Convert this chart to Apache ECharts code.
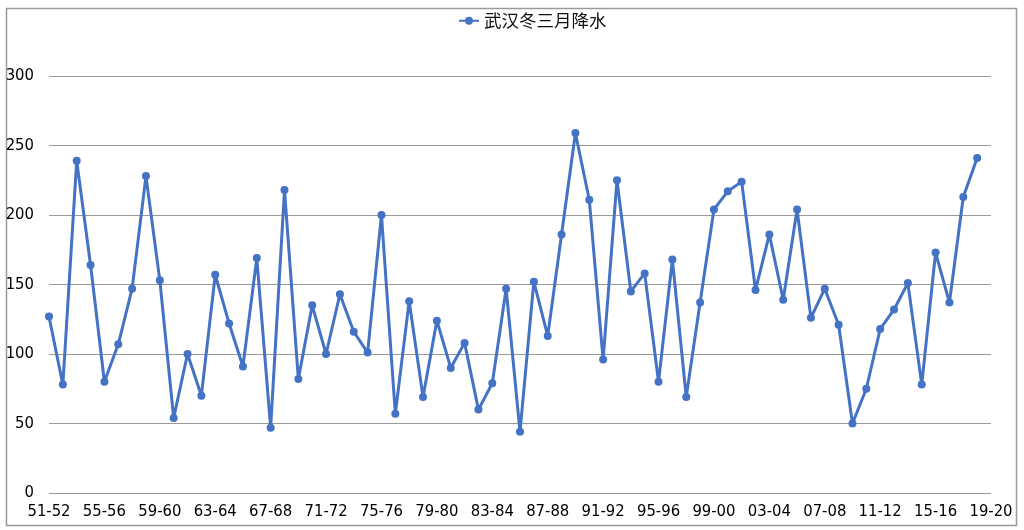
<!DOCTYPE html>
<html>
<head>
<meta charset="utf-8">
<script src="https://cdn.jsdelivr.net/npm/echarts@6/dist/echarts.min.js"></script>
<style>
html,body{margin:0;padding:0;background:#fff;}
#chart{width:1024px;height:530px;}
</style>
</head>
<body>
<div id="chart"></div>
<script>
var seriesName = '武汉冬三月降水';
var categories = [
  '51-52','52-53','53-54','54-55','55-56','56-57','57-58','58-59','59-60','60-61',
  '61-62','62-63','63-64','64-65','65-66','66-67','67-68','68-69','69-70','70-71',
  '71-72','72-73','73-74','74-75','75-76','76-77','77-78','78-79','79-80','80-81',
  '81-82','82-83','83-84','84-85','85-86','86-87','87-88','88-89','89-90','90-91',
  '91-92','92-93','93-94','94-95','95-96','96-97','97-98','98-99','99-00','00-01',
  '01-02','02-03','03-04','04-05','05-06','06-07','07-08','08-09','09-10','10-11',
  '11-12','12-13','13-14','14-15','15-16','16-17','17-18','18-19','19-20'
];
var precip = [
  127, 78, 239, 164, 80, 107, 147, 228, 153, 54,
  100, 70, 157, 122, 91, 169, 47, 218, 82, 135,
  100, 143, 116, 101, 200, 57, 138, 69, 124, 90,
  108, 60, 79, 147, 44, 152, 113, 186, 259, 211,
  96, 225, 145, 158, 80, 168, 69, 137, 204, 217,
  224, 146, 186, 139, 204, 126, 147, 121, 50, 75,
  118, 132, 151, 78, 173, 137, 213, 241
];
var yTicks = [0, 50, 100, 150, 200, 250, 300];

var chart = echarts.init(document.getElementById('chart'), null, {renderer: 'canvas'});
var blue = '#4472C4';
var labelFont = '"DejaVu Sans Condensed", "DejaVu Sans", sans-serif';
chart.setOption({
  backgroundColor: '#ffffff',
  animation: false,
  graphic: [{
    type: 'rect',
    left: 4, top: 6,
    shape: {width: 1010, height: 517},
    style: {fill: 'none', stroke: '#9a9a9a', lineWidth: 1.5},
    silent: true
  }],
  legend: {
    top: 7,
    left: 453,
    itemWidth: 20,
    itemHeight: 10,
    itemGap: 10,
    textStyle: {fontFamily: 'Noto Sans CJK SC', fontSize: 17.5, color: '#111'},
    data: [seriesName]
  },
  grid: {left: 49, right: 33, top: 76, bottom: 37, containLabel: false},
  xAxis: {
    type: 'category',
    data: categories,
    boundaryGap: false,
    axisLine: {show: false},
    axisTick: {show: false},
    axisLabel: {
      interval: 3,
      margin: 10,
      fontFamily: labelFont,
      fontSize: 16.5,
      color: '#000'
    },
    splitLine: {show: false}
  },
  yAxis: {
    type: 'value',
    min: yTicks[0],
    max: yTicks[yTicks.length - 1],
    interval: 50,
    axisLine: {show: false},
    axisTick: {show: false},
    axisLabel: {
      margin: 15,
      fontFamily: labelFont,
      fontSize: 16.5,
      color: '#000'
    },
    splitLine: {lineStyle: {color: '#9a9a9a', width: 1.2}}
  },
  series: [{
    name: seriesName,
    type: 'line',
    data: precip,
    symbol: 'circle',
    symbolSize: 8,
    showAllSymbol: true,
    lineStyle: {color: blue, width: 3},
    itemStyle: {color: blue}
  }]
});
</script>
</body>
</html>
